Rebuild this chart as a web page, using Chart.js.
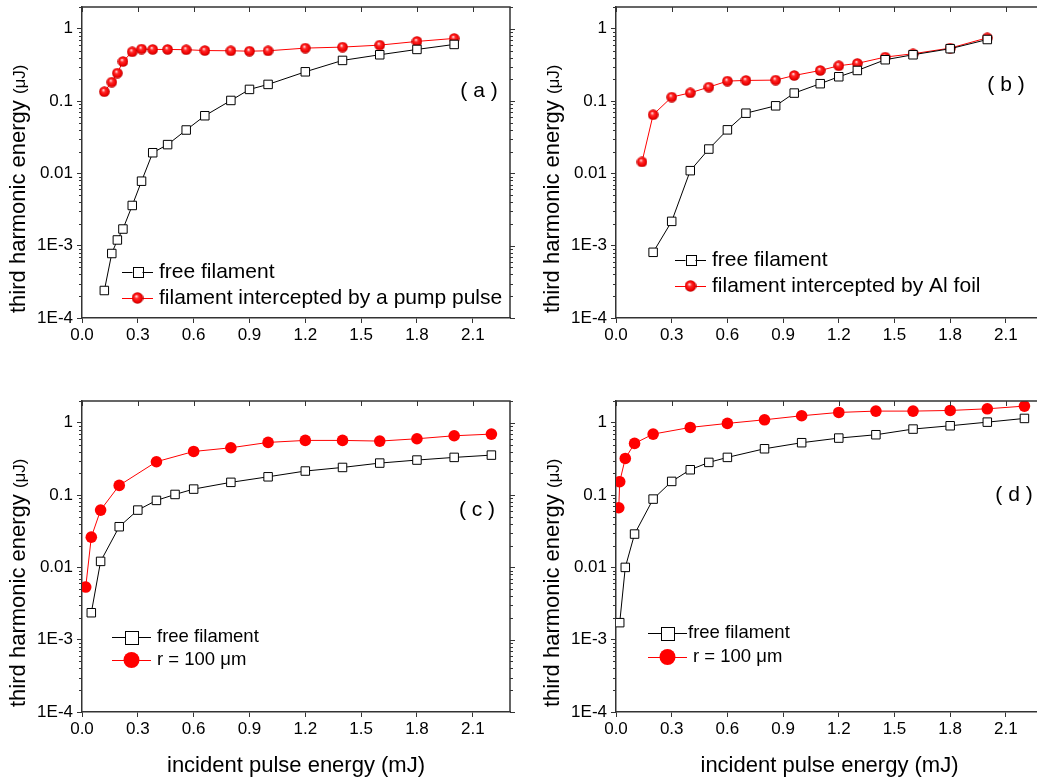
<!DOCTYPE html>
<html>
<head>
<meta charset="utf-8">
<script src="https://cdn.jsdelivr.net/npm/chart.js@4.4.1/dist/chart.umd.min.js"></script>
<style>
html, body { margin: 0; padding: 0; background: #fff; }
body { width: 1037px; height: 783px; position: relative; overflow: hidden; }
canvas { position: absolute; }
</style>
</head>
<body>
<canvas id="chart-a" width="518" height="390" style="left:0;top:0"></canvas>
<canvas id="chart-b" width="517" height="390" style="left:534px;top:0"></canvas>
<canvas id="chart-c" width="518" height="393" style="left:0;top:390px"></canvas>
<canvas id="chart-d" width="517" height="393" style="left:534px;top:390px"></canvas>
<script>
// axis ticks
const xTicks = [0, 0.3, 0.6, 0.9, 1.2, 1.5, 1.8, 2.1];
const xTickLabels = ['0.0', '0.3', '0.6', '0.9', '1.2', '1.5', '1.8', '2.1'];
const yTicks = [1e-4, 1e-3, 0.01, 0.1, 1];
const yTickLabels = ['1E-4', '1E-3', '0.01', '0.1', '1'];

// (a) pump pulse
const aEnergy = [0.12, 0.16, 0.19, 0.22, 0.27, 0.32, 0.38, 0.46, 0.56, 0.66, 0.8, 0.9, 1.0, 1.2, 1.4, 1.6, 1.8, 2.0];
const aFree = [2.4e-4, 7.8e-4, 1.2e-3, 1.7e-3, 3.6e-3, 7.8e-3, 0.0193, 0.025, 0.0398, 0.0627, 0.102, 0.145, 0.17, 0.254, 0.365, 0.437, 0.518, 0.607];
const aPump = [0.135, 0.183, 0.244, 0.353, 0.481, 0.524, 0.518, 0.518, 0.513, 0.50, 0.496, 0.49, 0.496, 0.54, 0.558, 0.594, 0.668, 0.735];

// (b) Al foil
const bEnergyFree = [0.2, 0.3, 0.4, 0.5, 0.6, 0.7, 0.86, 0.96, 1.1, 1.2, 1.3, 1.45, 1.6, 1.8, 2.0];
const bFree = [8.1e-4, 2.17e-3, 0.0109, 0.0217, 0.040, 0.068, 0.086, 0.129, 0.174, 0.217, 0.265, 0.373, 0.437, 0.53, 0.71];
const bEnergyFoil = [0.14, 0.2, 0.3, 0.4, 0.5, 0.6, 0.7, 0.86, 0.96, 1.1, 1.2, 1.3, 1.45, 1.6, 1.8, 2.0];
const bFoil = [0.0144, 0.0647, 0.1135, 0.130, 0.156, 0.189, 0.193, 0.195, 0.226, 0.265, 0.308, 0.332, 0.406, 0.451, 0.54, 0.75];

// (c) r = 100 um
const cEnergyFree = [0.05, 0.1, 0.2, 0.3, 0.4, 0.5, 0.6, 0.8, 1.0, 1.2, 1.4, 1.6, 1.8, 2.0, 2.2];
const cFree = [2.36e-3, 0.0121, 0.0365, 0.062, 0.0844, 0.102, 0.121, 0.15, 0.179, 0.215, 0.241, 0.277, 0.305, 0.332, 0.357];
const cEnergyR = [0.02, 0.05, 0.1, 0.2, 0.4, 0.6, 0.8, 1.0, 1.2, 1.4, 1.6, 1.8, 2.0, 2.2];
const cR100 = [5.35e-3, 0.0262, 0.062, 0.136, 0.289, 0.401, 0.451, 0.535, 0.57, 0.57, 0.558, 0.601, 0.661, 0.697];

// (d) r = 100 um
const dEnergyFree = [0.02, 0.05, 0.1, 0.2, 0.3, 0.4, 0.5, 0.6, 0.8, 1.0, 1.2, 1.4, 1.6, 1.8, 2.0, 2.2];
const dFree = [1.72e-3, 0.01, 0.0289, 0.088, 0.1545, 0.224, 0.283, 0.332, 0.437, 0.53, 0.614, 0.683, 0.818, 0.909, 1.02, 1.148];
const dEnergyR = [0.015, 0.02, 0.05, 0.1, 0.2, 0.4, 0.6, 0.8, 1.0, 1.2, 1.4, 1.6, 1.8, 2.0, 2.2];
const dR100 = [0.0668, 0.153, 0.321, 0.518, 0.697, 0.862, 0.98, 1.1, 1.25, 1.39, 1.45, 1.45, 1.48, 1.56, 1.70];

const FONT = '"Liberation Sans", Arial, sans-serif';
const AXIS = '#333';

function pts(xs, ys) {
    return xs.map((x, i) => ({ x: x, y: ys[i] }));
}

// red shaded ball used as marker in (a) and (b)
function makeBall(d) {
    const c = document.createElement('canvas');
    c.width = d; c.height = d;
    const g = c.getContext('2d');
    const r = d / 2;
    const grad = g.createRadialGradient(r * 0.8, r * 0.7, 0.3, r, r, r);
    grad.addColorStop(0, '#ffe0e0');
    grad.addColorStop(0.3, '#ff2a2a');
    grad.addColorStop(0.75, '#f00000');
    grad.addColorStop(1, '#b00000');
    g.fillStyle = grad;
    g.beginPath();
    g.arc(r, r, r - 0.2, 0, Math.PI * 2);
    g.fill();
    return c;
}
const ball = makeBall(11);
const ballBig = makeBall(12);

function freeSet(xs, ys) {
    return {
        label: 'free filament',
        data: pts(xs, ys),
        borderColor: '#000',
        borderWidth: 1,
        pointStyle: 'rect',
        pointRadius: 6,
        pointBackgroundColor: '#fff',
        pointBorderColor: '#000',
        pointBorderWidth: 1,
        legendMarker: { kind: 'rect', size: 10 }
    };
}

function redSet(label, xs, ys, shaded, legendSize) {
    return {
        label: label,
        data: pts(xs, ys),
        borderColor: '#ff0000',
        borderWidth: 1,
        pointStyle: shaded ? ball : 'circle',
        pointRadius: shaded ? 5.5 : 5.8,
        pointBackgroundColor: '#ff0000',
        pointBorderColor: '#ff0000',
        pointBorderWidth: 0,
        legendMarker: shaded ? { kind: 'ball', size: legendSize } : { kind: 'circle', size: legendSize }
    };
}

// frame, mirror ticks, minor log ticks, y title, legend and panel label
const decoPlugin = {
    id: 'deco',
    afterDraw(chart, args, o) {
        const ctx = chart.ctx;
        const a = chart.chartArea;
        const x = chart.scales.x, y = chart.scales.y;
        ctx.save();
        ctx.strokeStyle = AXIS;
        ctx.lineWidth = 1.5;
        ctx.beginPath();
        ctx.moveTo(a.left, a.top); ctx.lineTo(a.right, a.top); ctx.lineTo(a.right, a.bottom);
        ctx.stroke();

        ctx.lineWidth = 1;
        ctx.beginPath();
        xTicks.forEach(v => {
            const px = Math.round(x.getPixelForValue(v)) + 0.5;
            ctx.moveTo(px, a.top); ctx.lineTo(px, a.top + 5);
        });
        yTicks.forEach(v => {
            const py = Math.round(y.getPixelForValue(v)) + 0.5;
            ctx.moveTo(a.right, py); ctx.lineTo(a.right + 5, py);
        });
        for (let e = -4; e <= 0; e++) {
            for (let m = 2; m <= 9; m++) {
                const v = m * Math.pow(10, e);
                if (v > y.max) break;
                const py = Math.round(y.getPixelForValue(v)) + 0.5;
                ctx.moveTo(a.left - 3, py); ctx.lineTo(a.left, py);
                ctx.moveTo(a.right, py); ctx.lineTo(a.right + 3, py);
            }
        }
        ctx.stroke();

        // y title
        ctx.fillStyle = '#000';
        ctx.translate(a.left - 63, a.bottom - 5);
        ctx.rotate(-Math.PI / 2);
        ctx.textAlign = 'left';
        ctx.textBaseline = 'middle';
        ctx.font = '22px ' + FONT;
        const t1 = 'third harmonic energy ';
        ctx.fillText(t1, 0, 0);
        const w1 = ctx.measureText(t1).width;
        ctx.font = '17px ' + FONT;
        ctx.fillText('(\u03bcJ)', w1, 1);
        ctx.setTransform(1, 0, 0, 1, 0, 0);

        // panel label
        ctx.font = '21px ' + FONT;
        ctx.textAlign = 'center';
        ctx.fillText(o.label, a.left + o.labelX, a.top + o.labelY);

        // legend
        ctx.textAlign = 'left';
        ctx.font = o.legendFont + 'px ' + FONT;
        chart.data.datasets.forEach((ds, i) => {
            const ly = a.top + o.legendY + i * o.legendGap;
            const x0 = a.left + o.legendX;
            const cx = x0 + o.lineLen / 2;
            ctx.strokeStyle = ds.borderColor;
            ctx.lineWidth = 1;
            ctx.beginPath();
            ctx.moveTo(x0, ly + 0.5); ctx.lineTo(x0 + o.lineLen, ly + 0.5);
            ctx.stroke();
            const mk = ds.legendMarker;
            const s = mk.size;
            if (mk.kind === 'rect') {
                ctx.fillStyle = '#fff';
                ctx.fillRect(cx - s / 2, ly - s / 2, s, s);
                ctx.strokeStyle = '#000';
                ctx.strokeRect(Math.round(cx - s / 2) + 0.5, Math.round(ly - s / 2) + 0.5, s, s);
            } else if (mk.kind === 'ball') {
                ctx.drawImage(ballBig, cx - s / 2, ly - s / 2, s, s);
            } else {
                ctx.fillStyle = '#ff0000';
                ctx.beginPath();
                ctx.arc(cx, ly, s / 2, 0, Math.PI * 2);
                ctx.fill();
            }
            ctx.fillStyle = '#000';
            ctx.fillText(ds.label, x0 + (o.textGaps ? o.textGaps[i] : o.textGap), ly);
        });
        ctx.restore();
    }
};

function makeChart(id, datasets, bottomTitle, pad, deco) {
    return new Chart(document.getElementById(id), {
        type: 'line',
        data: { datasets: datasets },
        plugins: [decoPlugin],
        options: {
            responsive: false,
            animation: false,
            layout: { autoPadding: false, padding: { top: pad, right: 8, left: 0, bottom: 0 } },
            plugins: { legend: { display: false }, tooltip: { enabled: false }, deco: deco },
            scales: {
                x: {
                    type: 'linear', min: 0, max: 2.3,
                    afterBuildTicks: s => { s.ticks = xTicks.map(v => ({ value: v })); },
                    afterFit: s => { s.height = bottomTitle ? 71 : 72; s.paddingLeft = 0; s.paddingRight = 0; },
                    ticks: {
                        color: '#000', font: { family: FONT, size: 17 }, padding: 2,
                        maxRotation: 0, autoSkip: false,
                        callback: (v, i) => xTickLabels[i]
                    },
                    grid: { drawOnChartArea: false, tickLength: 5, tickColor: AXIS },
                    border: { color: AXIS, width: 1.5 },
                    title: {
                        display: bottomTitle, text: 'incident pulse energy (mJ)', color: '#000',
                        font: { family: FONT, size: 22 }, padding: { top: 0, bottom: 4 }
                    }
                },
                y: {
                    type: 'logarithmic', min: 1e-4, max: 2,
                    afterBuildTicks: s => { s.ticks = yTicks.map(v => ({ value: v })); },
                    afterFit: s => { s.width = 82; s.paddingTop = 0; s.paddingBottom = 0; },
                    ticks: {
                        color: '#000', font: { family: FONT, size: 17 }, padding: 4, autoSkip: false,
                        callback: (v, i) => yTickLabels[i]
                    },
                    grid: { drawOnChartArea: false, tickLength: 5, tickColor: AXIS },
                    border: { color: AXIS, width: 1.5 }
                }
            }
        }
    });
}

makeChart('chart-a', [
    freeSet(aEnergy, aFree),
    redSet('filament intercepted by a pump pulse', aEnergy, aPump, true, 12)
], false, 7, { label: '( a )', labelX: 397, labelY: 84, legendX: 40, legendY: 265, legendGap: 26, lineLen: 31, textGap: 37, legendFont: 21 });

makeChart('chart-b', [
    freeSet(bEnergyFree, bFree),
    redSet('filament intercepted by Al foil', bEnergyFoil, bFoil, true, 12)
], false, 7, { label: '( b )', labelX: 390, labelY: 78, legendX: 59, legendY: 253, legendGap: 26, lineLen: 31, textGap: 37, legendFont: 21 });

const cSets = [freeSet(cEnergyFree, cFree), redSet('r = 100 \u03bcm', cEnergyR, cR100, false, 16)];
cSets[0].legendMarker = { kind: 'rect', size: 13 };
makeChart('chart-c', cSets, true, 11, { label: '( c )', labelX: 395, labelY: 109, legendX: 30, legendY: 236, legendGap: 23, lineLen: 39, textGap: 45, legendFont: 18.5 });

const dSets = [freeSet(dEnergyFree, dFree), redSet('r = 100 \u03bcm', dEnergyR, dR100, false, 16)];
dSets[0].legendMarker = { kind: 'rect', size: 13 };
makeChart('chart-d', dSets, true, 11, { label: '( d )', labelX: 398, labelY: 94, legendX: 32, legendY: 232, legendGap: 24, lineLen: 39, textGap: 45, textGaps: [40, 45], legendFont: 18.5 });
</script>
</body>
</html>
